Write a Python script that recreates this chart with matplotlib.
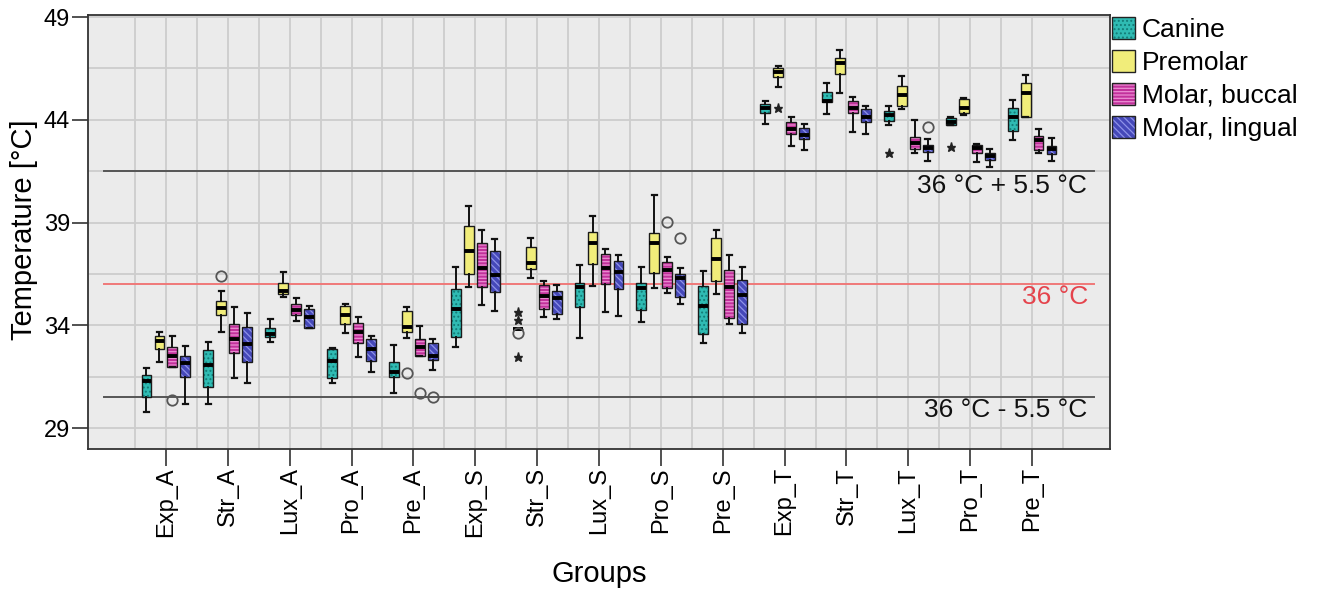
import matplotlib
matplotlib.use("Agg")
import matplotlib.pyplot as plt
from matplotlib.patches import Patch
from matplotlib.legend_handler import HandlerTuple
import matplotlib.transforms as mtransforms

plt.rcParams['font.family'] = ['Liberation Sans', 'DejaVu Sans']
plt.rcParams['hatch.linewidth'] = 0.9

# ---------------- data ----------------
groups = ["Exp_A", "Str_A", "Lux_A", "Pro_A", "Pre_A",
          "Exp_S", "Str_S", "Lux_S", "Pro_S", "Pre_S",
          "Exp_T", "Str_T", "Lux_T", "Pro_T", "Pre_T"]
teeth = ["Canine", "Premolar", "Molar, buccal", "Molar, lingual"]

# each row: [whisker low, Q1, median, Q3, whisker high]
canine = [
    [29.79, 30.52, 31.30, 31.58, 31.93],
    [30.15, 31.01, 32.07, 32.80, 33.17],
    [33.20, 33.44, 33.56, 33.88, 34.30],
    [31.20, 31.43, 32.28, 32.84, 32.88],
    [30.69, 31.50, 31.74, 32.20, 33.04],
    [32.96, 33.41, 34.77, 35.76, 36.85],
    [33.80, 33.80, 33.80, 33.80, 33.80],
    [33.39, 34.90, 35.85, 36.07, 36.93],
    [34.14, 34.74, 35.83, 36.07, 36.82],
    [33.12, 33.56, 34.94, 35.91, 36.64],
    [43.79, 44.34, 44.56, 44.77, 44.91],
    [44.27, 44.85, 44.93, 45.37, 45.77],
    [43.74, 43.95, 44.23, 44.44, 44.68],
    [43.74, 43.74, 43.91, 44.07, 44.12],
    [43.01, 43.47, 44.15, 44.59, 44.96],
]
premolar = [
    [32.20, 32.83, 33.25, 33.48, 33.69],
    [33.69, 34.48, 34.82, 35.18, 35.68],
    [35.39, 35.50, 35.68, 36.07, 36.61],
    [33.64, 34.06, 34.50, 34.94, 35.02],
    [33.40, 33.66, 33.93, 34.69, 34.87],
    [35.88, 36.49, 37.63, 38.83, 39.82],
    [36.28, 36.74, 37.01, 37.82, 38.23],
    [35.93, 36.98, 37.99, 38.52, 39.32],
    [35.83, 36.56, 38.02, 38.47, 40.34],
    [35.52, 36.17, 37.21, 38.26, 38.64],
    [45.61, 46.07, 46.31, 46.50, 46.62],
    [45.29, 46.21, 46.78, 47.02, 47.39],
    [44.52, 44.68, 45.20, 45.66, 46.13],
    [44.23, 44.34, 44.56, 44.99, 45.04],
    [44.12, 44.15, 45.32, 45.80, 46.18],
]
molar_buccal = [
    [31.95, 31.98, 32.50, 32.93, 33.49],
    [31.45, 32.63, 33.33, 34.06, 34.90],
    [34.21, 34.50, 34.74, 35.02, 35.31],
    [32.47, 33.15, 33.69, 34.09, 34.39],
    [32.50, 32.52, 32.93, 33.33, 33.98],
    [34.99, 35.88, 36.77, 38.02, 38.64],
    [34.42, 34.77, 35.42, 35.96, 36.17],
    [34.63, 36.01, 36.77, 37.47, 37.71],
    [35.55, 35.83, 36.69, 37.06, 37.34],
    [34.06, 34.37, 35.88, 36.69, 37.42],
    [42.72, 43.31, 43.54, 43.91, 44.15],
    [43.42, 44.31, 44.59, 44.91, 45.09],
    [42.37, 42.58, 42.85, 43.18, 43.99],
    [41.96, 42.37, 42.61, 42.77, 42.82],
    [42.37, 42.53, 43.01, 43.22, 43.55],
]
molar_lingual = [
    [30.17, 31.47, 32.18, 32.52, 32.99],
    [31.18, 32.20, 33.11, 33.93, 34.61],
    [33.87, 33.88, 34.39, 34.77, 34.94],
    [31.74, 32.28, 32.84, 33.35, 33.49],
    [31.82, 32.31, 32.50, 33.15, 33.31],
    [34.70, 35.63, 36.44, 37.61, 38.20],
    [34.29, 34.55, 35.31, 35.67, 35.96],
    [34.45, 35.76, 36.58, 37.14, 37.42],
    [35.03, 35.39, 36.28, 36.49, 36.77],
    [33.61, 34.05, 35.47, 36.20, 36.85],
    [42.53, 43.05, 43.26, 43.58, 43.78],
    [43.29, 43.88, 44.15, 44.51, 44.68],
    [42.01, 42.42, 42.61, 42.77, 43.06],
    [41.69, 42.04, 42.24, 42.40, 42.56],
    [42.01, 42.32, 42.56, 42.72, 43.10],
]
series = [canine, premolar, molar_buccal, molar_lingual]

# outliers: (group index, tooth index, value)
outliers_circle = [
    (0, 2, 30.36), (1, 1, 36.40), (4, 1, 31.66), (4, 2, 30.72),
    (4, 3, 30.52), (6, 0, 33.61), (8, 2, 39.04), (8, 3, 38.26),
    (12, 3, 43.63),
]
outliers_star = [
    (6, 0, 34.66), (6, 0, 34.26), (6, 0, 32.44),
    (10, 1, 44.56), (12, 0, 42.37), (13, 0, 42.69),
]

base_temp = 36.0
delta_temp = 5.5

# ---------------- style ----------------
fills = ['#2FBBB3', '#F1ED7A', '#C2319B', '#4548B9']
hatch_cols = ['#137C77', '#F1ED7A', '#EA8DD2', '#8E92E8']
hatches = ['....', '', '-----', '\\\\\\\\\\']
offsets = [-0.315, -0.105, 0.105, 0.315]
box_w = 0.16

fig = plt.figure(figsize=(13.17, 5.90), dpi=100)
ax = fig.add_axes([88/1317, 1-449/590, 1022/1317, 434/590])
ax.set_facecolor('#EBEBEB')
ax.set_axisbelow(True)

centers = list(range(1, len(groups) + 1))

for t, data in enumerate(series):
    pos = [c + offsets[t] for c in centers]
    stats = [dict(whislo=r[0], q1=r[1], med=r[2], q3=r[3], whishi=r[4], fliers=[])
             for r in data]
    # pass 1: filled, hatched boxes
    b1 = ax.bxp(stats, positions=pos, widths=box_w, patch_artist=True,
                showfliers=False, showcaps=False, manage_ticks=False,
                boxprops=dict(facecolor=fills[t], edgecolor=hatch_cols[t],
                              hatch=hatches[t], linewidth=0))
    for k in ('whiskers', 'medians'):
        for a in b1[k]:
            a.set_visible(False)
    # pass 2: outlines, whiskers, caps, medians
    ax.bxp(stats, positions=pos, widths=box_w, patch_artist=True,
           showfliers=False, manage_ticks=False, capwidths=box_w * 0.5,
           boxprops=dict(facecolor='none', edgecolor='#1A1A1A', linewidth=1.0),
           whiskerprops=dict(color='#111111', linewidth=1.4),
           capprops=dict(color='#111111', linewidth=1.6),
           medianprops=dict(color='#000000', linewidth=2.8, solid_capstyle='butt'))

for g, t, v in outliers_circle:
    ax.plot(centers[g] + offsets[t], v, marker='o', ms=7.5, mfc='none',
            mec='#555555', mew=1.3, ls='none', zorder=4)
for g, t, v in outliers_star:
    ax.plot(centers[g] + offsets[t], v, marker='*', ms=6.5, color='#222222',
            ls='none', zorder=4)

# reference lines
x_ext = [0, len(groups) + 1]
ax.plot(x_ext, [base_temp + delta_temp] * 2, color='#555555', lw=1.4, zorder=1.5)
ax.plot(x_ext, [base_temp - delta_temp] * 2, color='#555555', lw=1.4, zorder=1.5)
ax.plot(x_ext, [base_temp] * 2, color='#F07878', lw=1.4, zorder=1.5)

trans = mtransforms.blended_transform_factory(ax.transAxes, ax.transData)
ax.text(0.9775, base_temp + delta_temp - 0.15, "36 °C + 5.5 °C", transform=trans,
        ha='right', va='top', fontsize=19, color='#111111')
ax.text(0.9785, base_temp - 0.05, "36 °C", transform=trans,
        ha='right', va='top', fontsize=19, color='#E5434C')
ax.text(0.9775, base_temp - delta_temp - 0.02, "36 °C - 5.5 °C", transform=trans,
        ha='right', va='top', fontsize=19, color='#111111')

# axes
ax.set_xlim(-0.26, len(groups) + 1.26)
ax.set_ylim(27.98, 49.1)
ax.set_xticks(centers)
ax.set_xticklabels(groups, rotation=90, fontsize=17)
ax.set_xticks([c - 0.5 for c in centers] + [centers[-1] + 0.5], minor=True)
ax.set_yticks([29, 34, 39, 44, 49])
ax.set_yticks([31.5, 36.5, 41.5, 46.5], minor=True)
ax.tick_params(axis='y', which='major', labelsize=17, length=11.5, width=1.2,
               color='#333333', pad=1.5)
ax.tick_params(axis='x', which='major', length=12, width=1.2, color='#333333', pad=1)
ax.tick_params(which='minor', length=0)
ax.grid(True, which='both', color='#CDCDCD', lw=1.3)
for s in ax.spines.values():
    s.set_color('#333333')
    s.set_linewidth(1.3)

ax.set_ylabel("Temperature [°C]", fontsize=21)
ax.yaxis.set_label_coords(-0.049, 0.505)
ax.set_xlabel("Groups", fontsize=21)
ax.xaxis.set_label_coords(0.5, -0.255)

# legend
handles = []
for t in range(4):
    h1 = Patch(facecolor=fills[t], edgecolor=hatch_cols[t], hatch=hatches[t], lw=0)
    h2 = Patch(facecolor='none', edgecolor='#222222', lw=1.0)
    handles.append((h1, h2))
fig.legend(handles, teeth, loc='upper left',
           bbox_to_anchor=(1112/1317, 1 - 17/590), frameon=False,
           fontsize=19, handlelength=0.87, handleheight=0.9,
           handletextpad=0.25, labelspacing=0.3, borderpad=0, borderaxespad=0,
           handler_map={tuple: HandlerTuple(ndivide=1, pad=0)})

fig.savefig("out.png", dpi=100)
